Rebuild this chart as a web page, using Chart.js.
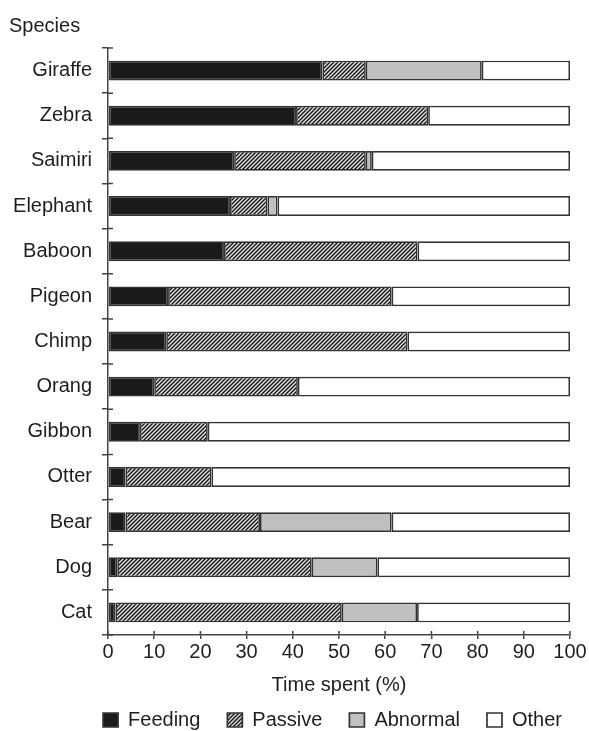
<!DOCTYPE html>
<html>
<head>
<meta charset="utf-8">
<script src="https://cdn.jsdelivr.net/npm/chart.js@4/dist/chart.umd.min.js"></script>
<style>
  body { margin: 0; background: #fff; }
  canvas { display: block; }
</style>
</head>
<body>
<canvas id="chart" width="589" height="731"></canvas>
<script>
// data (% of time)
const species = ['Giraffe', 'Zebra', 'Saimiri', 'Elephant', 'Baboon', 'Pigeon', 'Chimp', 'Orang', 'Gibbon', 'Otter', 'Bear', 'Dog', 'Cat'];
const feeding = [46.4, 40.7, 27.3, 26.4, 25.1, 13.0, 12.6, 10.0, 6.9, 3.8, 3.8, 2.0, 1.6];
const passive = [9.4, 28.6, 28.5, 8.1, 41.9, 48.4, 52.2, 31.1, 14.7, 18.6, 29.1, 42.1, 49.0];
const abnormal = [25.1, 0, 1.3, 2.2, 0, 0, 0, 0, 0, 0, 28.5, 14.2, 16.3];
const other = [19.1, 30.7, 42.9, 63.3, 33.0, 38.6, 35.2, 58.9, 78.4, 77.6, 38.6, 41.7, 33.1];
const xTicks = [0, 10, 20, 30, 40, 50, 60, 70, 80, 90, 100];

const FONT = { family: '"Liberation Sans", Arial, sans-serif', size: 20 };
const TEXT = '#1e1e1e';
const LINE = '#444';

// hatch pattern for "Passive"
function hatch() {
  let c = document.createElement('canvas');
  c.width = 4; c.height = 4;
  let g = c.getContext('2d');
  g.fillStyle = '#e6e6e6';
  g.fillRect(0, 0, 4, 4);
  g.strokeStyle = '#1a1a1a';
  g.lineWidth = 1.5;
  g.beginPath();
  g.moveTo(-1, 5); g.lineTo(5, -1);
  g.moveTo(-1, 1); g.lineTo(1, -1);
  g.moveTo(3, 5); g.lineTo(5, 3);
  g.stroke();
  return g.createPattern(c, 'repeat');
}

// ticks that cross the axis line (inner half drawn here, outer half by Chart.js)
const crossTicks = {
  id: 'crossTicks',
  afterDraw(chart) {
    let { ctx, scales: { x, y } } = chart;
    ctx.save();
    ctx.strokeStyle = LINE;
    ctx.lineWidth = 1.5;
    ctx.beginPath();
    for (let i = 0; i <= species.length; i++) {
      let py = y.getPixelForValue(i - 0.5);
      ctx.moveTo(x.left, py);
      ctx.lineTo(x.left + 5, py);
    }
    xTicks.forEach(v => {
      let px = x.getPixelForValue(v);
      ctx.moveTo(px, y.bottom);
      ctx.lineTo(px, y.bottom - 4);
    });
    ctx.stroke();
    ctx.restore();
  }
};

const ds = (label, data, bg) => ({
  label, data,
  backgroundColor: bg,
  borderColor: '#333',
  borderWidth: 1.7,
  borderSkipped: false,
  categoryPercentage: 1,
  barPercentage: 0.44
});

new Chart(document.getElementById('chart').getContext('2d'), {
  type: 'bar',
  data: {
    labels: species,
    datasets: [
      ds('Feeding', feeding, '#1a1a1a'),
      ds('Passive', passive, hatch()),
      ds('Abnormal', abnormal, '#c0c0c0'),
      ds('Other', other, '#ffffff')
    ]
  },
  options: {
    indexAxis: 'y',
    responsive: false,
    animation: false,
    layout: { padding: { left: 9, right: 0, top: 0, bottom: 0 } },
    scales: {
      x: {
        stacked: true,
        min: 0,
        max: 100,
        afterBuildTicks: s => { s.ticks = xTicks.map(v => ({ value: v })); },
        afterFit: s => { s.paddingRight = 19; },
        ticks: { font: FONT, color: TEXT, padding: 1, maxRotation: 0 },
        grid: { drawOnChartArea: false, tickLength: 4, color: LINE, lineWidth: 1.5 },
        border: { color: LINE, width: 1.5 },
        title: { display: true, text: 'Time spent (%)', font: FONT, color: TEXT, padding: { top: 8, bottom: -14 } }
      },
      y: {
        stacked: true,
        ticks: { font: FONT, color: TEXT, padding: 10 },
        grid: { offset: true, drawOnChartArea: false, tickLength: 6, color: LINE, lineWidth: 1.5 },
        border: { color: LINE, width: 1.5 },
        afterFit: s => { s.width = 99; }
      }
    },
    plugins: {
      title: {
        display: true,
        text: 'Species',
        align: 'start',
        font: { ...FONT, weight: 'normal' },
        color: TEXT,
        padding: { top: 14, bottom: 10 }
      },
      legend: {
        position: 'bottom',
        align: 'end',
        maxHeight: 48,
        labels: { font: FONT, color: TEXT, boxWidth: 15, boxHeight: 14, padding: 27 }
      },
      tooltip: { enabled: false }
    }
  },
  plugins: [crossTicks]
});
</script>
</body>
</html>
